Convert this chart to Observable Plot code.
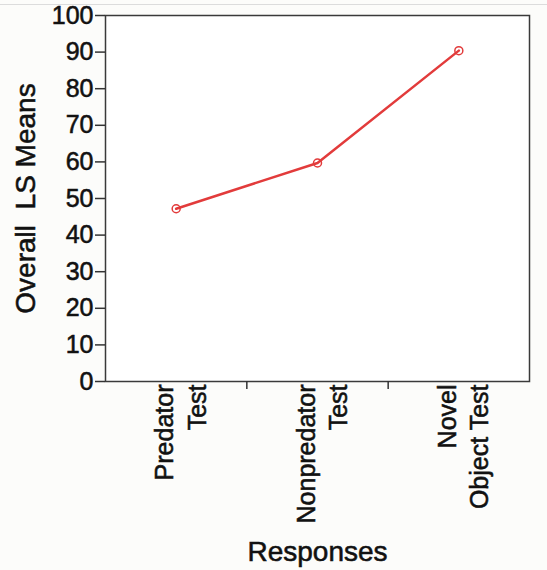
<!DOCTYPE html>
<html>
<head>
<meta charset="utf-8">
<script src="https://cdn.jsdelivr.net/npm/d3@7"></script>
<script src="https://cdn.jsdelivr.net/npm/@observablehq/plot@0.6"></script>
<style>
  html, body { margin: 0; padding: 0; background: #fcfcfa; }
  #topline { position: absolute; left: 0; top: 4px; width: 547px; height: 1px; background: #dcdcdc; }
  #chart svg text { white-space: pre; stroke: #111; stroke-width: 0.55px; }
</style>
</head>
<body>
<div id="topline"></div>
<div id="chart"></div>
<script>
const categories = ["Predator\nTest", "Nonpredator\nTest", "Novel\nObject Test"];
const lsMeans = [47.2, 59.7, 90.4];
const yTicks = [0, 10, 20, 30, 40, 50, 60, 70, 80, 90, 100];
const xLabel = "Responses";
const yLabel = "Overall  LS Means";

const data = categories.map((c, i) => ({i, c, v: lsMeans[i]}));
const boundaries = d3.range(0.5, categories.length - 1, 1);
const red = "#e23b3b";
const font = "'Liberation Sans', Arial, Helvetica, sans-serif";

const chart = Plot.plot({
  width: 547,
  height: 570,
  marginLeft: 105,
  marginRight: 18,
  marginTop: 15,
  marginBottom: 189,
  style: {fontFamily: font, fontSize: "25px", color: "#111", background: "transparent", overflow: "visible"},
  x: {type: "linear", domain: [-0.5, categories.length - 0.5]},
  y: {domain: [0, 100]},
  marks: [
    Plot.frame({fill: "white"}),
    Plot.frame({stroke: "#3a3a3a", strokeWidth: 1.5}),
    Plot.axisY({ticks: yTicks, tickSize: 10, tickPadding: 2, label: null, fontSize: 25, stroke: "#333", strokeWidth: 1.5}),
    Plot.axisX({ticks: boundaries, tickSize: 8, tickFormat: () => "", label: null, stroke: "#333", strokeWidth: 1.5}),
    Plot.text(data, {
      x: "i", text: "c", frameAnchor: "bottom", rotate: -90,
      textAnchor: "end", lineAnchor: "middle", lineHeight: 1.3,
      dy: 3, dx: 3, fontSize: 25, fill: "#111"
    }),
    Plot.text([xLabel], {
      frameAnchor: "bottom", dy: 171, fontSize: 28, fill: "#111", lineAnchor: "middle"
    }),
    Plot.text([yLabel], {
      frameAnchor: "left", dx: -79, rotate: -90, fontSize: 28, fill: "#111",
      textAnchor: "middle", lineAnchor: "middle"
    }),
    Plot.line(data, {x: "i", y: "v", stroke: red, strokeWidth: 2.5}),
    Plot.dot(data, {x: "i", y: "v", r: 4, stroke: red, strokeWidth: 1.5, fill: "none"})
  ]
});
document.getElementById("chart").appendChild(chart);
</script>
</body>
</html>
